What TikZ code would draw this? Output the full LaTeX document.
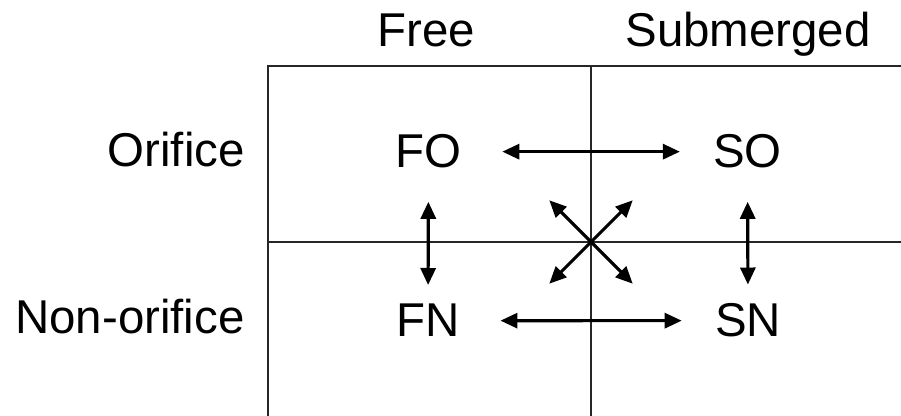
\documentclass[tikz,border=0pt]{standalone}
\usepackage{fontspec}
\setmainfont{Liberation Sans}
\usetikzlibrary{arrows.meta}

\tikzset{
  lab/.style={inner sep=0pt,font=\fontsize{27}{32}\selectfont},
  grid/.style={line width=1.6pt,black!85},
  arr/.style={line width=1.8pt,-{Triangle[length=0.34cm,width=0.3cm]}},
  harr/.style={arr,{Triangle[length=0.34cm,width=0.3cm]}-{Triangle[length=0.34cm,width=0.3cm]},shorten <=0.81cm,shorten >=0.66cm},
  varr/.style={arr,{Triangle[length=0.34cm,width=0.3cm]}-{Triangle[length=0.34cm,width=0.3cm]},shorten <=0.66cm,shorten >=0.38cm}
}

\begin{document}
\begin{tikzpicture}
\useasboundingbox (0,0) rectangle (18.02,8.32);
% table lines
\draw[grid] (5.36,0) -- (5.36,7.0) -- (18.02,7.0);
\draw[grid] (11.82,0) -- (11.82,7.0);
\draw[grid] (5.36,3.48) -- (18.02,3.48);
\coordinate (mid) at (11.82,3.48);
% headings
\node[lab,anchor=base] (free) at (8.52,7.38) {Free};
\node[lab,anchor=base] (sub) at (14.96,7.38) {Submerged};
\node[lab,anchor=base east] (ori) at (4.9,4.98) {Orifice};
\node[lab,anchor=base east] (non) at (4.9,1.64) {Non-orifice};
% cells
\node[lab,anchor=base] (fo) at (8.57,4.96) {FO};
\node[lab,anchor=base] (so) at (14.95,4.96) {SO};
\node[lab,anchor=base] (fn) at (8.56,1.58) {FN};
\node[lab,anchor=base] (sn) at (14.96,1.58) {SN};
% transitions
\draw[harr] (fo) -- (so);
\draw[harr] (fn) -- (sn);
\draw[varr] (fo) -- (fn);
\draw[varr] (so) -- (sn);
\foreach \a in {45,135,225,315}
  \draw[arr] (mid) -- ++(\a:1.18);
\end{tikzpicture}
\end{document}
